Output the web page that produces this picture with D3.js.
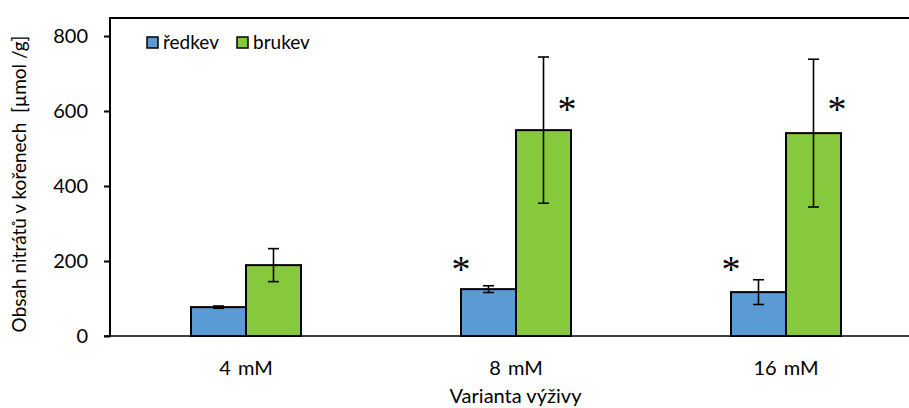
<!DOCTYPE html>
<html>
<head>
<meta charset="utf-8">
<script src="https://cdn.jsdelivr.net/npm/d3@7"></script>
<style>
  body { margin: 0; background: #fff; }
  text { font-family: Lato, "Open Sans", sans-serif; fill: #000; }
</style>
</head>
<body>
<svg id="chart" width="909" height="408"></svg>
<script>
const categories = ['4 mM', '8 mM', '16 mM'];
const series = ['ředkev', 'brukev'];
const redkev = [77, 125, 117];
const redkevErr = [3, 9, 33];
const brukev = [189, 549, 541];
const brukevErr = [44, 195, 197];
// asterisk level (in axis units) per category, null = none
const redkevStar = [null, 192, 192];
const brukevStar = [null, 619, 619];
const yTicks = [0, 200, 400, 600, 800];

const colors = ['#5B9BD5', '#87C93D'];

const svg = d3.select('#chart');
const plotLeft = 110;
const plotRight = 921;
const plotTop = 18;
const plotBottom = 336;

const x = d3.scaleBand()
  .domain(categories)
  .range([plotLeft + 1, plotRight])
  .paddingInner(0.5926)
  .paddingOuter(0.2963);

const xs = d3.scaleBand()
  .domain(series)
  .range([0, x.bandwidth()]);

const y = d3.scaleLinear()
  .domain([0, 800])
  .range([plotBottom, 36]);

const values = [redkev, brukev];
const errs = [redkevErr, brukevErr];
const stars = [redkevStar, brukevStar];

const rows = [];
series.forEach((s, si) => {
  categories.forEach((c, ci) => {
    rows.push({
      s, si, c,
      v: values[si][ci],
      e: errs[si][ci],
      star: stars[si][ci],
    });
  });
});

// bars
svg.append('g')
  .selectAll('rect')
  .data(rows)
  .enter().append('rect')
  .attr('x', d => x(d.c) + xs(d.s))
  .attr('y', d => y(d.v))
  .attr('width', xs.bandwidth())
  .attr('height', d => y(0) - y(d.v))
  .attr('fill', d => colors[d.si])
  .attr('stroke', '#000')
  .attr('stroke-width', 2);

// error bars
const eb = svg.append('g')
  .attr('stroke', '#000')
  .attr('stroke-width', 1.6);
rows.forEach((d) => {
  const cx = x(d.c) + xs(d.s) + xs.bandwidth() / 2;
  const y1 = y(d.v + d.e);
  const y2 = y(d.v - d.e);
  eb.append('line').attr('x1', cx).attr('x2', cx).attr('y1', y1).attr('y2', y2);
  eb.append('line').attr('x1', cx - 5.5).attr('x2', cx + 5.5).attr('y1', y1).attr('y2', y1);
  eb.append('line').attr('x1', cx - 5.5).attr('x2', cx + 5.5).attr('y1', y2).attr('y2', y2);
});

// asterisks
svg.append('g')
  .selectAll('text')
  .data(rows.filter(d => d.star !== null))
  .enter().append('text')
  .attr('x', d => x(d.c) + xs(d.s) + (d.si === 0 ? 0 : xs.bandwidth() - 4))
  .attr('y', d => y(d.star))
  .attr('dy', '0.48em')
  .attr('text-anchor', 'middle')
  .style('font-family', '"Liberation Serif", "DejaVu Serif", serif')
  .style('font-size', '38px')
  .text('*');

// y axis
const yAxis = d3.axisLeft(y).tickValues(yTicks).tickSize(6).tickPadding(16);
const gy = svg.append('g')
  .attr('transform', `translate(${plotLeft},0)`)
  .call(yAxis);
gy.select('.domain').remove();
gy.selectAll('line').attr('stroke', '#000').attr('stroke-width', 2);
gy.selectAll('text').style('font-size', '20px');

// frame: left, top, bottom
svg.append('line').attr('x1', plotLeft).attr('x2', plotLeft).attr('y1', plotTop).attr('y2', plotBottom + 1)
  .attr('stroke', '#000').attr('stroke-width', 2);
svg.append('line').attr('x1', plotLeft - 1).attr('x2', 909).attr('y1', plotTop).attr('y2', plotTop)
  .attr('stroke', '#000').attr('stroke-width', 2);
svg.append('line').attr('x1', plotLeft - 6).attr('x2', 909).attr('y1', plotBottom).attr('y2', plotBottom)
  .attr('stroke', '#000').attr('stroke-width', 1.5);

// x labels
svg.append('g')
  .selectAll('text')
  .data(categories)
  .enter().append('text')
  .attr('x', d => x(d) + x.bandwidth() / 2)
  .attr('y', 375)
  .attr('text-anchor', 'middle')
  .style('font-size', '20px')
  .style('word-spacing', '2px')
  .text(d => d);

svg.append('text')
  .attr('x', (plotLeft + plotRight) / 2)
  .attr('y', 403)
  .attr('text-anchor', 'middle')
  .style('font-size', '20px')
  .text('Varianta výživy');

svg.append('text')
  .attr('transform', `translate(26,184) rotate(-90)`)
  .attr('text-anchor', 'middle')
  .style('font-size', '19px')
  .style('white-space', 'pre')
  .text('Obsah nitrátů v kořenech  [µmol /g]');

// legend
const lg = svg.append('g').attr('transform', 'translate(147,37)');
const lgX = [0, 90];
series.forEach((s, i) => {
  lg.append('rect')
    .attr('x', lgX[i]).attr('y', 0)
    .attr('width', 11).attr('height', 11)
    .attr('fill', colors[i])
    .attr('stroke', '#000').attr('stroke-width', 1.5);
  lg.append('text')
    .attr('x', lgX[i] + 16).attr('y', 12)
    .style('font-size', '19px')
    .text(s);
});
</script>
</body>
</html>
